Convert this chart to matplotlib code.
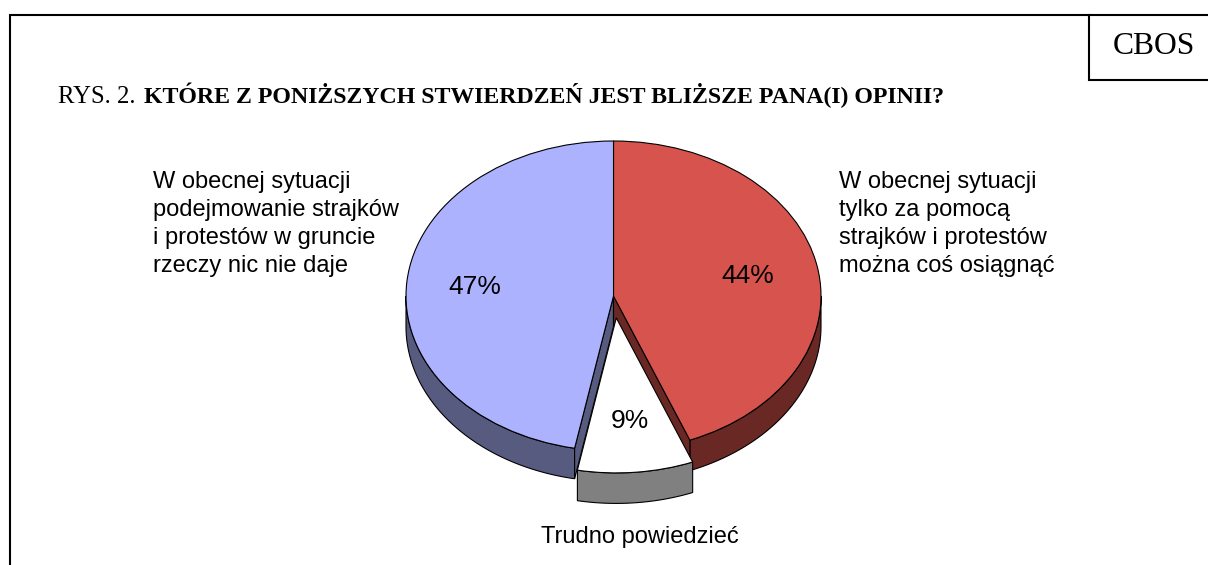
import matplotlib
matplotlib.use("Agg")
import matplotlib.pyplot as plt
import numpy as np

W, H = 1208, 565

# slices clockwise from the top of the pie
labels = ["W obecnej sytuacji\ntylko za pomocą\nstrajków i protestów\nmożna coś osiągnąć",
          "Trudno powiedzieć",
          "W obecnej sytuacji\npodejmowanie strajków\ni protestów w gruncie\nrzeczy nic nie daje"]
values = [44, 9, 47]
explode = [0, 0.142, 0]
top_colors = ["#D6544D", "#FFFFFF", "#ADB2FF"]
side_colors = ["#692824", "#808080", "#585B80"]

title_prefix = "RYS. 2."
title_bold = "KTÓRE Z PONIŻSZYCH STWIERDZEŃ JEST BLIŻSZE PANA(I) OPINII?"
source_tag = "CBOS"

CX, CY = 613.5, 296
RX, RY = 207.5, 155
DEPTH = 30.5 / RY

fig = plt.figure(figsize=(W / 100, H / 100), dpi=100)
bg = fig.add_axes([0, 0, 1, 1])
bg.set_xlim(0, W)
bg.set_ylim(H, 0)
bg.axis("off")

# frame and the CBOS box
bg.plot([10, 10, W], [H, 15, 15], color="black", lw=1.5, solid_joinstyle="miter")
bg.plot([1089, 1089, W], [15, 79.5, 79.5], color="black", lw=1.5, solid_joinstyle="miter")
bg.text(1154, 46, source_tag, family="Liberation Serif", fontsize=22.8, ha="center", va="center")
bg.text(58, 103, title_prefix, family="Liberation Serif", fontsize=17.8, va="baseline")
bg.text(144, 103, title_bold, family="Liberation Serif", fontsize=17.2, weight="bold", va="baseline")

# pie axes, unequal scales squash the circle into the tilted ellipse
XSPAN, YSPAN = 1.2, 1.5
ax = fig.add_axes([(CX - XSPAN * RX) / W, 1 - (CY + YSPAN * RY) / H,
                   2 * XSPAN * RX / W, 2 * YSPAN * RY / H])
wedges, _ = ax.pie(values, explode=explode, colors=top_colors, startangle=90, counterclock=False,
                   wedgeprops={"edgecolor": "black", "linewidth": 0.8, "zorder": 5})
ax.set_aspect("auto")
ax.set_xlim(-XSPAN, XSPAN)
ax.set_ylim(-YSPAN, YSPAN)
ax.patch.set_alpha(0)


def side_faces(start, stop, offset, color, z):
    # outer rim only where it faces the viewer, plus the cut faces at the gap
    ox, oy = offset
    a0, a1 = max(start, 90), min(stop, 270)
    if a1 > a0:
        t = np.radians(np.linspace(a0, a1, 80))
        x = ox + np.sin(t)
        y = oy + np.cos(t)
        ax.fill(np.r_[x, x[::-1]], np.r_[y, y[::-1] - DEPTH], facecolor=color,
                edgecolor="black", lw=0.8, zorder=z)
    for ang, visible in ((start, start > 180), (stop, stop < 180)):
        if visible:
            ex, ey = ox + np.sin(np.radians(ang)), oy + np.cos(np.radians(ang))
            ax.fill([ox, ex, ex, ox], [oy, ey, ey - DEPTH, oy - DEPTH], facecolor=color,
                    edgecolor="black", lw=0.8, zorder=z)


edges = np.cumsum([0] + values) * 3.6
order = [2, 0, 1]
for i in order:
    mid = np.radians((edges[i] + edges[i + 1]) / 2)
    off = (explode[i] * np.sin(mid), explode[i] * np.cos(mid))
    z = 4 if explode[i] == 0 else 6
    side_faces(edges[i], edges[i + 1], off, side_colors[i], z)
    wedges[i].set_zorder(z + 0.5)

# percent labels
pct_pos = [(748, 276), (630, 421), (475, 287)]
for v, (x, y) in zip(values, pct_pos):
    fig.text(x / W, 1 - y / H, f"{v}%", family="Liberation Sans", fontsize=19,
             ha="center", va="center", zorder=20)

# category labels
label_pos = [(839, 224, "left"), (640, 537, "center"), (153, 224, "left")]
for text, (x, y, ha) in zip(labels, label_pos):
    fig.text(x / W, 1 - y / H, text, family="Liberation Sans", fontsize=17, ha=ha,
             va="center", linespacing=1.34, zorder=20)

fig.savefig("out.png", dpi=100)
